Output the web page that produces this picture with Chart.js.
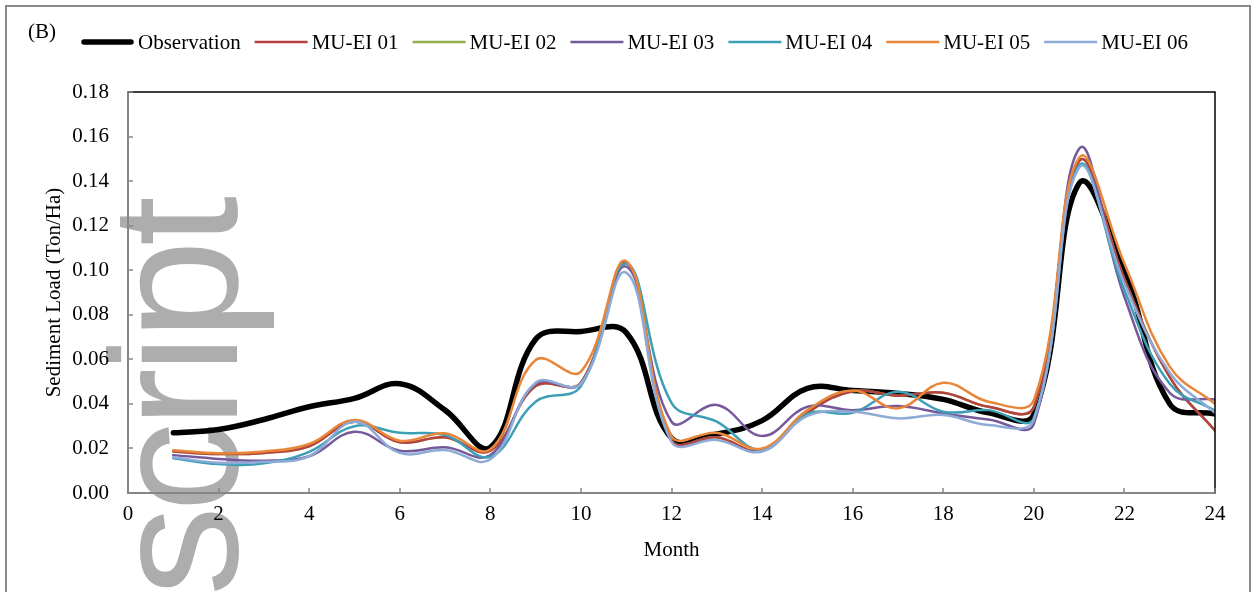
<!DOCTYPE html>
<html><head><meta charset="utf-8">
<script src="https://cdn.jsdelivr.net/npm/chart.js@4.4.0/dist/chart.umd.min.js"></script>
<style>html,body{margin:0;padding:0;background:#fff;}#wrap{width:1255px;height:592px;position:relative;}</style>
</head><body><div id="wrap"><canvas id="c" width="1255" height="592"></canvas></div>
<script>
const months = [1,2,3,4,5,6,7,8,9,10,11,12,13,14,15,16,17,18,19,20,21,22,23,24];
const observation = [0.027,0.0285,0.033,0.0387,0.0425,0.049,0.0372,0.0205,0.069,0.0725,0.072,0.0247,0.0265,0.0325,0.047,0.046,0.0447,0.042,0.036,0.0352,0.139,0.100,0.040,0.0355];
const muEi01 = [0.0186,0.0175,0.018,0.021,0.032,0.0228,0.025,0.019,0.048,0.0495,0.1035,0.0238,0.025,0.019,0.036,0.0457,0.0437,0.045,0.0387,0.0386,0.149,0.096,0.052,0.028];
const muEi02 = [0.0186,0.0175,0.018,0.021,0.032,0.0228,0.025,0.019,0.048,0.0495,0.1035,0.0238,0.025,0.019,0.036,0.0457,0.0437,0.045,0.0387,0.0386,0.149,0.096,0.052,0.028];
const muEi03 = [0.017,0.0153,0.0145,0.0165,0.0275,0.019,0.0205,0.017,0.049,0.049,0.1016,0.032,0.0395,0.0256,0.0387,0.0372,0.039,0.0357,0.033,0.031,0.1545,0.088,0.045,0.042];
const muEi04 = [0.0156,0.013,0.0133,0.0185,0.030,0.027,0.026,0.0163,0.041,0.048,0.103,0.0405,0.032,0.0193,0.0355,0.036,0.0455,0.0365,0.0372,0.0337,0.147,0.091,0.049,0.037];
const muEi05 = [0.0192,0.0178,0.0186,0.022,0.0328,0.0235,0.0268,0.0196,0.0597,0.0545,0.104,0.0256,0.027,0.020,0.0372,0.046,0.038,0.0495,0.041,0.0417,0.1505,0.103,0.0567,0.040];
const muEi06 = [0.016,0.0136,0.014,0.0165,0.032,0.018,0.0193,0.0151,0.0495,0.049,0.0989,0.023,0.0238,0.0186,0.0346,0.0365,0.0335,0.035,0.0305,0.0328,0.146,0.094,0.054,0.036];
const seriesNames = ['Observation','MU-EI 01','MU-EI 02','MU-EI 03','MU-EI 04','MU-EI 05','MU-EI 06'];
const xTicks = [0,2,4,6,8,10,12,14,16,18,20,22,24];
const yTicks = [0,0.02,0.04,0.06,0.08,0.10,0.12,0.14,0.16,0.18];
const xTitle = 'Month';
const yTitle = 'Sediment Load (Ton/Ha)';
const panelLabel = '(B)';
const watermark = 'script';

const seriesValues = [observation, muEi01, muEi02, muEi03, muEi04, muEi05, muEi06];
const colors = ['#000000','#b5423f','#8fb04d','#76599b','#3d9fb6','#e8863a','#8eaad6'];
const widths = [5.5,2.5,2.5,2.5,2.5,2.5,2.5];
// drawing order (higher = drawn earlier / underneath)
const drawOrder = [10,6,8,4,3,2,1];
const FONT = 'Liberation Serif';

const decor = {
  id: 'decor',
  beforeDraw(chart) {
    const ctx = chart.ctx;
    ctx.save();
    ctx.fillStyle = '#fff';
    ctx.fillRect(0, 0, chart.width, chart.height);
    ctx.translate(237, 596);
    ctx.rotate(-Math.PI / 2);
    ctx.font = '180px "Liberation Sans"';
    try { ctx.letterSpacing = '-6px'; } catch (e) {}
    ctx.fillStyle = '#adadad';
    ctx.textBaseline = 'alphabetic';
    ctx.textAlign = 'left';
    ctx.fillText(watermark, 0, 0);
    ctx.restore();
  },
  afterDraw(chart) {
    const ctx = chart.ctx;
    const a = chart.chartArea;
    ctx.save();
    ctx.strokeStyle = '#8a8a8a';
    ctx.lineWidth = 2;
    ctx.strokeRect(6, 6, 1244, 620);
    ctx.strokeStyle = '#000';
    ctx.lineWidth = 1.5;
    ctx.beginPath();
    ctx.moveTo(a.left, a.top); ctx.lineTo(a.right, a.top); ctx.lineTo(a.right, a.bottom);
    ctx.stroke();
    ctx.strokeStyle = '#868686';
    ctx.lineWidth = 1.5;
    const ys = chart.scales.y, xs = chart.scales.x;
    ctx.beginPath();
    ys.ticks.forEach(t => { const p = Math.round(ys.getPixelForValue(t.value)); ctx.moveTo(a.left, p); ctx.lineTo(a.left + 5, p); });
    xs.ticks.forEach(t => { const p = Math.round(xs.getPixelForValue(t.value)); ctx.moveTo(p, a.bottom); ctx.lineTo(p, a.bottom - 5); });
    ctx.stroke();
    ctx.font = '21px "' + FONT + '"';
    ctx.fillStyle = '#000';
    ctx.textBaseline = 'middle';
    ctx.textAlign = 'left';
    ctx.fillText(panelLabel, 28, 32);
    let x = 81;
    const ly = 42;
    chart.data.datasets.forEach((d, i) => {
      ctx.strokeStyle = d.borderColor;
      ctx.lineWidth = d.borderWidth;
      ctx.lineCap = i === 0 ? 'round' : 'butt';
      ctx.beginPath(); ctx.moveTo(x + (i === 0 ? 3 : 0), ly); ctx.lineTo(x + 53 - (i === 0 ? 3 : 0), ly); ctx.stroke();
      ctx.fillStyle = '#000';
      ctx.fillText(d.label, x + 57, ly + 1);
      x += 57 + ctx.measureText(d.label).width + 14;
    });
    ctx.restore();
  }
};

new Chart(document.getElementById('c'), {
  type: 'line',
  data: {
    datasets: seriesNames.map((n, i) => ({
      label: n,
      data: months.map((m, j) => ({ x: m, y: seriesValues[i][j] })),
      borderColor: colors[i],
      backgroundColor: colors[i],
      borderWidth: widths[i],
      pointRadius: 0,
      tension: 0.4,
      fill: false,
      order: drawOrder[i],
      borderCapStyle: 'round'
    }))
  },
  options: {
    responsive: false,
    devicePixelRatio: 1,
    animation: false,
    layout: { padding: { left: 0, top: 92, right: 40, bottom: 0 } },
    plugins: { legend: { display: false }, tooltip: { enabled: false } },
    scales: {
      x: {
        type: 'linear', min: 0, max: 24,
        afterFit: s => { s.height = 99; },
        afterBuildTicks: s => { s.ticks = xTicks.map(v => ({ value: v })); },
        ticks: { padding: 9, color: '#000', font: { family: FONT, size: 21 }, maxRotation: 0, autoSkip: false },
        grid: { display: false, drawTicks: false, tickLength: 0 },
        border: { display: true, color: '#868686', width: 2 },
        title: { display: true, text: xTitle, color: '#000', font: { family: FONT, size: 21 }, padding: { top: 0, bottom: 29 } }
      },
      y: {
        type: 'linear', min: 0, max: 0.18,
        afterFit: s => { s.width = 128; },
        afterBuildTicks: s => { s.ticks = yTicks.map(v => ({ value: v })); },
        ticks: { padding: 19, color: '#000', font: { family: FONT, size: 21 }, callback: v => Number(v).toFixed(2) },
        grid: { display: false, drawTicks: false, tickLength: 0 },
        border: { display: true, color: '#868686', width: 2 },
        title: { display: true, text: yTitle, color: '#000', font: { family: FONT, size: 21 }, padding: { top: 42, bottom: 0 } }
      }
    }
  },
  plugins: [decor]
});
</script></body></html>
